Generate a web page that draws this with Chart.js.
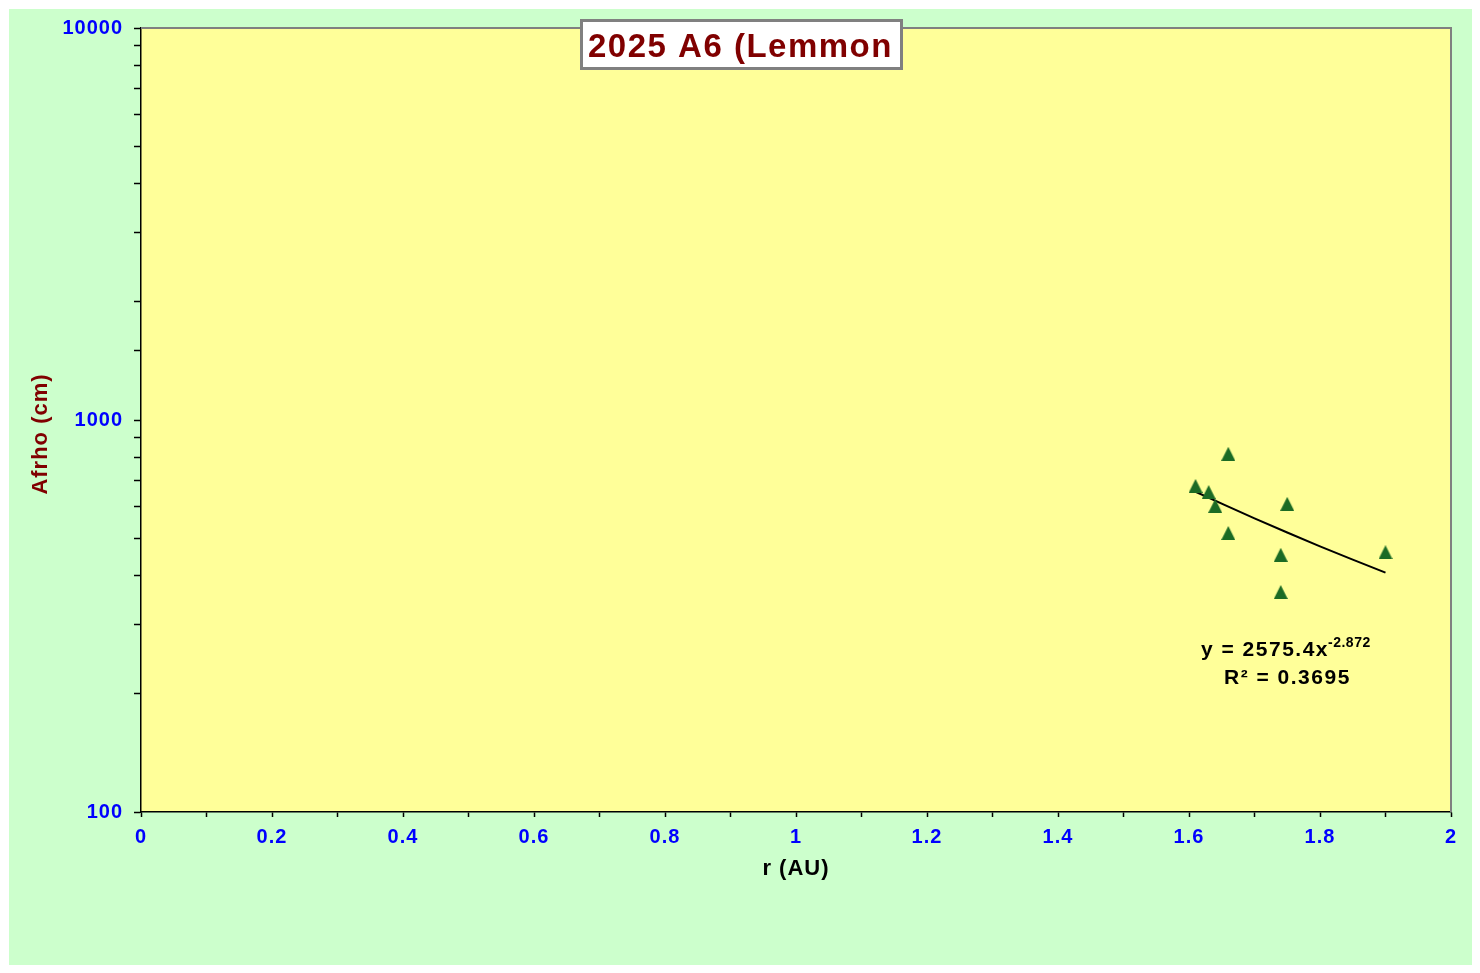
<!DOCTYPE html>
<html>
<head>
<meta charset="utf-8">
<script src="https://cdn.jsdelivr.net/npm/chart.js@4.4.1/dist/chart.umd.min.js"></script>
<style>
  html, body { margin: 0; padding: 0; background: #ffffff; }
  canvas { display: block; }
</style>
</head>
<body>
<canvas id="afrhoChart" width="1480" height="973"></canvas>
<script>
// observed values (r in AU, Afrho in cm)
const rAU = [1.61, 1.63, 1.64, 1.66, 1.66, 1.74, 1.74, 1.75, 1.90];
const afrho = [679, 655, 604, 820, 515, 453, 364, 611, 460];

// power-law trendline y = 2575.4 x^-2.872, sampled over the data range
const trendR = [1.61, 1.70, 1.80, 1.90];
const trendAfrho = [656, 561, 476, 408];

const chartTitle = '2025 A6 (Lemmon';
const equationMain = 'y = 2575.4x';
const equationExp = '-2.872';
const rSquared = 'R\u00B2 = 0.3695';
const xTitle = 'r (AU)';
const yTitle = 'Afrho (cm)';

const FONT = 'Arial, "Liberation Sans", sans-serif';

// Excel-like triangle marker (slightly taller than wide)
function makeTriangle(w, h, color) {
    const c = document.createElement('canvas');
    c.width = w;
    c.height = h;
    const g = c.getContext('2d');
    g.fillStyle = color;
    g.beginPath();
    g.moveTo(w / 2, 0);
    g.lineTo(w, h);
    g.lineTo(0, h);
    g.closePath();
    g.fill();
    return c;
}
const triangleMarker = makeTriangle(14, 14, '#1b6b24');

const decorPlugin = {
    id: 'decor',
    beforeDraw(chart) {
        const ctx = chart.ctx;
        const a = chart.chartArea;
        ctx.save();
        ctx.fillStyle = '#ccffcc';
        ctx.fillRect(9, 9, 1463, 956);
        ctx.fillStyle = '#ffff99';
        ctx.fillRect(a.left, a.top, a.right - a.left, a.bottom - a.top);
        ctx.restore();
        // wider GDI-like text for ticks and axis title
        ctx.letterSpacing = '1px';
    },
    afterDraw(chart) {
        const ctx = chart.ctx;
        const a = chart.chartArea;
        ctx.save();
        // grey top/right frame of plot area
        ctx.strokeStyle = '#808080';
        ctx.lineWidth = 2;
        ctx.beginPath();
        ctx.moveTo(a.left, a.top);
        ctx.lineTo(a.right, a.top);
        ctx.lineTo(a.right, a.bottom);
        ctx.stroke();

        // y axis title
        ctx.fillStyle = '#800000';
        ctx.font = 'bold 22px ' + FONT;
        ctx.letterSpacing = '1px';
        ctx.textAlign = 'center';
        ctx.textBaseline = 'middle';
        ctx.translate(41, 434);
        ctx.rotate(-Math.PI / 2);
        ctx.fillText(yTitle, 0, 0);
        ctx.restore();

        // title box
        ctx.save();
        ctx.fillStyle = '#ffffff';
        ctx.fillRect(581, 20, 320, 48);
        ctx.strokeStyle = '#808080';
        ctx.lineWidth = 3;
        ctx.strokeRect(581.5, 20.5, 320, 48);
        ctx.fillStyle = '#800000';
        ctx.font = 'bold 33px ' + FONT;
        ctx.letterSpacing = '1.5px';
        ctx.textAlign = 'left';
        ctx.textBaseline = 'alphabetic';
        ctx.fillText(chartTitle, 588, 57);
        ctx.restore();

        // trendline equation
        ctx.save();
        ctx.fillStyle = '#000000';
        ctx.letterSpacing = '1.5px';
        ctx.textBaseline = 'alphabetic';
        ctx.textAlign = 'left';
        ctx.font = 'bold 21px ' + FONT;
        ctx.fillText(equationMain, 1201, 656);
        const w1 = ctx.measureText(equationMain).width;
        ctx.font = 'bold 14px ' + FONT;
        ctx.letterSpacing = '0.5px';
        ctx.fillText(equationExp, 1200 + w1, 647);
        ctx.font = 'bold 21px ' + FONT;
        ctx.letterSpacing = '1.5px';
        ctx.fillText(rSquared, 1224, 684);
        ctx.restore();
    }
};

const ctx = document.getElementById('afrhoChart').getContext('2d');
new Chart(ctx, {
    type: 'scatter',
    data: {
        datasets: [{
            label: 'Afrho',
            data: rAU.map((r, i) => ({ x: r, y: afrho[i] })),
            pointStyle: triangleMarker,
            pointRadius: 7,
            pointHoverRadius: 7,
            backgroundColor: '#1b6b24',
            borderColor: '#1b6b24',
            borderWidth: 0
        }, {
            label: 'Power trend',
            type: 'line',
            data: trendR.map((r, i) => ({ x: r, y: trendAfrho[i] })),
            borderColor: '#000000',
            borderWidth: 2,
            pointRadius: 0,
            fill: false,
            tension: 0.2
        }]
    },
    options: {
        responsive: false,
        animation: false,
        layout: {
            padding: { left: 0, top: 28, right: 29, bottom: 81 }
        },
        plugins: {
            legend: { display: false },
            title: { display: false },
            tooltip: { enabled: false }
        },
        scales: {
            x: {
                type: 'linear',
                min: 0,
                max: 2,
                afterFit: (scale) => { scale.height = 80; },
                border: { color: '#000000', width: 1.5 },
                grid: {
                    drawOnChartArea: false,
                    color: '#000000',
                    tickLength: 5,
                    tickWidth: 1.5
                },
                ticks: {
                    stepSize: 0.1,
                    autoSkip: false,
                    maxRotation: 0,
                    padding: 8,
                    color: '#0000ff',
                    font: { family: FONT, size: 20, weight: 'bold' },
                    callback: (value) => {
                        const v = Math.round(value * 10);
                        return v % 2 === 0 ? String(v / 10) : '';
                    }
                },
                title: {
                    display: true,
                    text: xTitle,
                    color: '#000000',
                    font: { family: FONT, size: 22, weight: 'bold' },
                    padding: { top: 10, bottom: 10 }
                }
            },
            y: {
                type: 'logarithmic',
                min: 100,
                max: 10000,
                afterFit: (scale) => { scale.width = 141; },
                border: { color: '#000000', width: 1.5 },
                grid: {
                    drawOnChartArea: false,
                    color: '#000000',
                    tickLength: 7,
                    tickWidth: 1.5
                },
                ticks: {
                    autoSkip: false,
                    padding: 11,
                    color: '#0000ff',
                    font: { family: FONT, size: 20, weight: 'bold' },
                    callback: (value) => {
                        const l = Math.log10(value);
                        return Math.abs(l - Math.round(l)) < 1e-9 ? String(value) : '';
                    }
                }
            }
        }
    },
    plugins: [decorPlugin]
});
</script>
</body>
</html>
